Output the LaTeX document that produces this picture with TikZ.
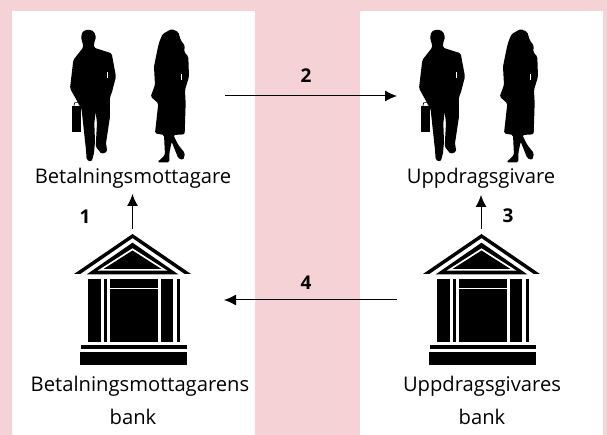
\documentclass[tikz,border=0pt]{standalone}
\usepackage{fontspec}
\setmainfont{Open Sans}
\usetikzlibrary{arrows.meta,positioning}
\definecolor{panelpink}{HTML}{F5D2D6}
\tikzset{
  label text/.style={font=\fontsize{20.2}{24}\selectfont,inner sep=0pt,anchor=base},
  step number/.style={font=\fontsize{19}{22}\selectfont\bfseries,inner sep=0pt,anchor=center},
  flow/.style={draw=black,line width=1pt,-{Latex[length=12pt,width=11pt]}},
  man/.pic={
    \begin{scope}[scale=0.3333]
    \fill[black,rounded corners=1.5pt] (160,112)--(158,100)--(153,82)--(158,64)--(175,58)--(192,64)--(198,82)--(192,100)--(192,113)--(245,130)--(258,200)--(245,250)--(240,260)--(240,320)--(228,400)--(232,425)--(215,432)--(197,410)--(201,340)--(197,305)--(193,340)--(195,395)--(192,430)--(185,455)--(170,450)--(168,420)--(155,300)--(150,285)--(145,280)--(120,235)--(130,150)--cycle;
    \fill[black] (127,288) rectangle (153,365);
    \draw[black,line width=0.6pt] (132,288)--(134,278)--(146,278)--(148,288);
    \fill[white] (232,185) rectangle (235,205);
    \end{scope}
  },
  woman/.pic={
    \begin{scope}[scale=0.3333]
    \fill[black,rounded corners=1.5pt] (398,72)--(425,57)--(445,66)--(452,90)--(465,108)--(462,125)--(475,140)--(477,200)--(465,240)--(467,280)--(464,373)--(430,375)--(445,405)--(465,430)--(460,450)--(445,445)--(425,395)--(418,430)--(418,457)--(382,457)--(405,435)--(402,375)--(375,370)--(385,280)--(362,260)--(375,225)--(372,170)--(382,120)--(388,95)--cycle;
    \fill[white] (452,192) rectangle (455,210);
    \end{scope}
  },
  bank/.pic={
    \fill[black] (0,0)--(-58.5,40)--(58.5,40)--cycle;
    \fill[white] (0,4.3)--(-52,40)--(52,40)--cycle;
    \fill[black] (0,8.7)--(-46,40.5)--(46,40.5)--cycle;
    \fill[white] (0,14.3)--(-35,36.7)--(35,36.7)--cycle;
    \fill[black] (0,16.5)--(-29,35)--(29,35)--cycle;
    \fill[black] (-44.3,44.7) rectangle (-32,108);
    \fill[black] (-28.7,44.7) rectangle (-25.7,108);
    \fill[black] (-22.3,44.7) rectangle (25,54);
    \fill[black] (-22.3,55.5) rectangle (25,108);
    \fill[black] (28.3,44.7) rectangle (40.7,108);
    \fill[black] (44,44.7) rectangle (47,108);
    \fill[black] (-52,111) rectangle (54.7,114.7);
    \fill[black] (-52.7,118) rectangle (54.7,131);
  }
}
\begin{document}
\begin{tikzpicture}[x=1pt,y=-1pt]
\fill[panelpink] (0,0) rectangle (607,435);
\fill[white] (12,11) rectangle (255,435);
\fill[white] (360,11) rectangle (603,435);
\useasboundingbox (0,0) rectangle (607,435);
\pic at (30,10) {man};
\pic at (30,10) {woman};
\pic at (379,10) {man};
\pic at (379,10) {woman};
\pic at (132.5,234) {bank};
\pic at (481.5,234) {bank};
\node[label text] (payee) at (133,184) {Betalningsmottagare};
\node[label text] (payer) at (481,184) {Uppdragsgivare};
\node[label text] (payeebank) at (140,391) {Betalningsmottagarens};
\node[label text] (payeebank2) at (133,424) {bank};
\node[label text] (payerbank) at (482,391) {Uppdragsgivares};
\node[label text] (payerbank2) at (482,424) {bank};
\node[step number] (n1) at (85,217) {1};
\node[step number] (n2) at (306,76) {2};
\node[step number] (n3) at (508,216) {3};
\node[step number] (n4) at (306,283) {4};
\coordinate (a1) at (132.5,229);
\coordinate (b1) at (132.5,194);
\coordinate (a2) at (225,96);
\coordinate (b2) at (397,96);
\coordinate (a3) at (481,229);
\coordinate (b3) at (481,195);
\coordinate (a4) at (397,300);
\coordinate (b4) at (224,300);
\draw[flow] (a1) -- (b1);
\draw[flow] (a2) -- (b2);
\draw[flow] (a3) -- (b3);
\draw[flow] (a4) -- (b4);
\end{tikzpicture}
\end{document}
